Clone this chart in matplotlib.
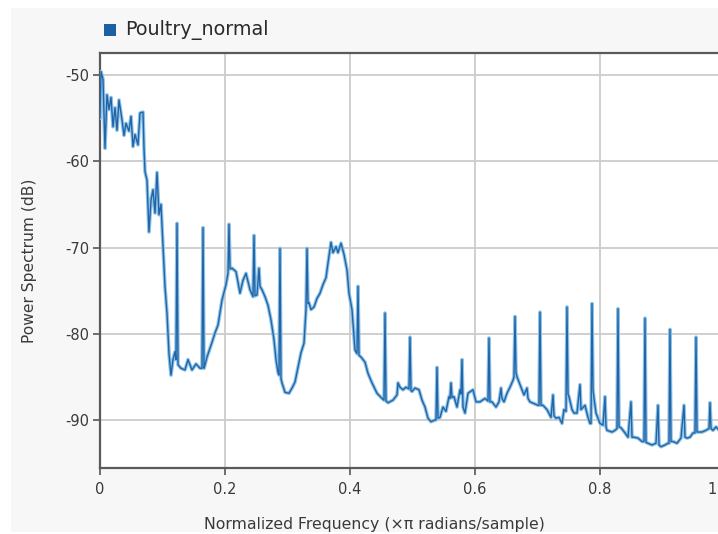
import matplotlib
matplotlib.use("Agg")
import matplotlib.pyplot as plt
import matplotlib.transforms as mtransforms
from matplotlib.patches import Rectangle

plt.rcParams["font.family"] = ["DejaVu Sans"]

# Normalized frequency (x pi rad/sample) and power spectrum (dB)
freq = [
    0.0000, 0.0016, 0.0048, 0.0080, 0.0112, 0.0144, 0.0176, 0.0208, 0.0240, 0.0272,
    0.0304, 0.0352, 0.0384, 0.0416, 0.0464, 0.0496, 0.0528, 0.0560, 0.0608, 0.0640,
    0.0688, 0.0704, 0.0720, 0.0752, 0.0784, 0.0816, 0.0848, 0.0880, 0.0912, 0.0944,
    0.0976, 0.1008, 0.1040, 0.1072, 0.1104, 0.1136, 0.1168, 0.1200, 0.1216, 0.1232,
    0.1248, 0.1296, 0.1360, 0.1408, 0.1472, 0.1536, 0.1600, 0.1632, 0.1648, 0.1664,
    0.1680, 0.1712, 0.1792, 0.1840, 0.1888, 0.1952, 0.2016, 0.2048, 0.2064, 0.2080,
    0.2112, 0.2176, 0.2240, 0.2288, 0.2336, 0.2400, 0.2448, 0.2464, 0.2480, 0.2512,
    0.2544, 0.2560, 0.2592, 0.2640, 0.2688, 0.2736, 0.2784, 0.2816, 0.2848, 0.2864,
    0.2880, 0.2896, 0.2912, 0.2960, 0.3024, 0.3072, 0.3120, 0.3168, 0.3216, 0.3264,
    0.3296, 0.3312, 0.3328, 0.3344, 0.3376, 0.3424, 0.3472, 0.3520, 0.3568, 0.3616,
    0.3648, 0.3696, 0.3728, 0.3776, 0.3808, 0.3856, 0.3904, 0.3952, 0.3984, 0.4032,
    0.4080, 0.4112, 0.4128, 0.4144, 0.4176, 0.4240, 0.4288, 0.4352, 0.4432, 0.4512,
    0.4544, 0.4560, 0.4576, 0.4608, 0.4688, 0.4752, 0.4768, 0.4800, 0.4848, 0.4896,
    0.4944, 0.4960, 0.4976, 0.4992, 0.5040, 0.5104, 0.5152, 0.5200, 0.5248, 0.5296,
    0.5360, 0.5376, 0.5392, 0.5408, 0.5440, 0.5488, 0.5536, 0.5584, 0.5600, 0.5616,
    0.5632, 0.5664, 0.5712, 0.5760, 0.5776, 0.5792, 0.5808, 0.5840, 0.5888, 0.5968,
    0.6016, 0.6080, 0.6160, 0.6208, 0.6224, 0.6240, 0.6272, 0.6336, 0.6384, 0.6416,
    0.6432, 0.6464, 0.6512, 0.6560, 0.6608, 0.6624, 0.6640, 0.6656, 0.6672, 0.6720,
    0.6784, 0.6832, 0.6848, 0.6880, 0.6944, 0.7008, 0.7024, 0.7040, 0.7056, 0.7088,
    0.7152, 0.7216, 0.7248, 0.7264, 0.7296, 0.7344, 0.7392, 0.7424, 0.7456, 0.7472,
    0.7488, 0.7504, 0.7552, 0.7584, 0.7632, 0.7680, 0.7696, 0.7760, 0.7808, 0.7840,
    0.7856, 0.7872, 0.7888, 0.7904, 0.7936, 0.8000, 0.8048, 0.8080, 0.8096, 0.8112,
    0.8192, 0.8240, 0.8272, 0.8288, 0.8304, 0.8336, 0.8400, 0.8448, 0.8496, 0.8512,
    0.8544, 0.8608, 0.8672, 0.8704, 0.8720, 0.8736, 0.8768, 0.8832, 0.8896, 0.8928,
    0.8944, 0.8976, 0.9040, 0.9088, 0.9104, 0.9120, 0.9136, 0.9168, 0.9232, 0.9296,
    0.9344, 0.9360, 0.9392, 0.9440, 0.9488, 0.9520, 0.9536, 0.9552, 0.9584, 0.9632,
    0.9696, 0.9744, 0.9760, 0.9776, 0.9808, 0.9856, 0.9920, 1.0000,
]
power_db = [
    -55.0, -49.6, -50.5, -58.5, -52.3, -54.0, -52.6, -56.0, -53.8, -56.4,
    -52.9, -55.2, -57.0, -55.6, -56.5, -54.8, -58.3, -56.9, -58.1, -54.4,
    -54.3, -58.5, -61.2, -62.2, -68.2, -64.5, -63.3, -66.0, -61.3, -66.2,
    -65.0, -69.9, -74.6, -77.6, -82.3, -84.8, -83.0, -82.1, -83.0, -67.2,
    -83.6, -84.0, -84.2, -83.0, -84.2, -83.5, -84.0, -84.0, -67.7, -84.0,
    -83.6, -82.7, -81.0, -79.9, -79.0, -76.1, -74.3, -73.0, -67.3, -72.5,
    -72.4, -72.8, -75.3, -73.8, -73.0, -74.9, -75.7, -68.6, -75.6, -75.5,
    -72.4, -74.5, -74.9, -75.7, -76.7, -78.4, -80.7, -83.0, -84.5, -84.8,
    -70.1, -85.2, -85.7, -86.8, -86.9, -86.3, -85.6, -83.9, -82.2, -81.1,
    -77.2, -70.1, -76.5, -76.4, -77.2, -76.9, -75.9, -75.3, -74.3, -73.5,
    -71.8, -69.4, -70.6, -69.9, -70.6, -69.5, -70.8, -72.6, -75.3, -77.2,
    -81.9, -82.3, -74.5, -82.5, -82.7, -83.3, -84.6, -85.7, -86.9, -87.5,
    -87.7, -77.6, -87.8, -88.0, -87.7, -87.1, -85.7, -86.2, -86.5, -86.2,
    -86.4, -80.4, -86.6, -86.7, -86.3, -86.5, -87.7, -88.5, -89.8, -90.2,
    -90.0, -90.0, -83.9, -89.8, -89.7, -88.5, -89.0, -87.3, -87.5, -85.7,
    -87.4, -87.3, -88.5, -86.5, -87.0, -83.0, -88.5, -89.2, -86.9, -86.5,
    -87.9, -87.9, -87.5, -87.8, -80.5, -87.9, -87.9, -88.5, -87.9, -86.3,
    -87.5, -87.9, -86.9, -86.2, -85.4, -85.0, -78.0, -84.5, -85.0, -85.9,
    -87.1, -86.3, -87.5, -87.9, -88.1, -88.3, -88.3, -77.5, -88.3, -88.3,
    -88.8, -89.7, -87.1, -89.5, -89.8, -89.7, -90.4, -88.8, -89.0, -76.9,
    -87.0, -87.3, -88.8, -89.2, -89.2, -85.9, -88.8, -88.3, -89.7, -90.4,
    -90.4, -76.5, -86.5, -87.5, -89.2, -90.4, -90.6, -87.3, -90.8, -91.2,
    -91.4, -91.2, -91.0, -77.1, -90.8, -90.9, -91.5, -92.0, -87.9, -92.0,
    -92.0, -92.1, -92.5, -92.5, -78.2, -92.6, -92.7, -92.9, -92.7, -88.3,
    -92.9, -93.1, -92.9, -92.7, -92.7, -79.5, -92.5, -92.5, -92.7, -92.1,
    -88.3, -92.0, -92.1, -92.0, -91.5, -91.5, -80.4, -91.4, -91.4, -91.4,
    -91.2, -91.0, -88.0, -91.0, -91.2, -90.8, -91.3, -91.0,
]

series_name = "Poultry_normal"
x_ticks = [0, 0.2, 0.4, 0.6, 0.8, 1.0]
x_tick_labels = ["0", "0.2", "0.4", "0.6", "0.8", "1"]
y_ticks = [-90, -80, -70, -60, -50]
y_tick_labels = ["-90", "-80", "-70", "-60", "-50"]

W, H = 718, 534
fig = plt.figure(figsize=(W / 100, H / 100), dpi=100, facecolor="white")

# light grey panel behind the chart
fig.patches.append(Rectangle((11 / W, 2 / H), 1, 1 - 10 / H, transform=fig.transFigure,
                             facecolor="#f7f7f7", edgecolor="none", zorder=-10))

ax = fig.add_axes([100 / W, 1 - 468 / H, 625 / W, (468 - 52.7) / H])
ax.set_facecolor("white")

ax.plot(freq, power_db, color="#8ec3e8", lw=2.6, solid_joinstyle="round", zorder=3)
ax.plot(freq, power_db, color="#2264a6", lw=1.0, solid_joinstyle="round", zorder=4)

ax.set_xlim(0, 1)
ax.set_ylim(-95.57, -47.41)
ax.set_xticks(x_ticks)
ax.set_xticklabels(x_tick_labels)
ax.set_yticks(y_ticks)
ax.set_yticklabels(y_tick_labels)
ax.grid(True, color="#cccccc", lw=1.3)
ax.set_axisbelow(True)

for side in ("left", "bottom", "top"):
    ax.spines[side].set_color("#5a5a5a")
    ax.spines[side].set_linewidth(1.6)
ax.spines["right"].set_visible(False)

ax.tick_params(axis="both", colors="#555555", width=1.2, length=5, direction="out",
               labelsize=10.5, labelcolor="#3a3a3a")
ax.tick_params(axis="x", pad=5)
ax.tick_params(axis="y", pad=3)

# the "1" label sits at the right edge of the canvas; pull it in a little
last = ax.xaxis.get_major_ticks()[-1]
last.label1.set_transform(last.label1.get_transform()
                          + mtransforms.ScaledTranslation(-0.13, 0, fig.dpi_scale_trans))

fig.text(374 / W, 1 - 524 / H, "Normalized Frequency (×π radians/sample)",
         ha="center", va="center", fontsize=11.3, color="#3a3a3a")
fig.text(30 / W, 1 - 261 / H, "Power Spectrum (dB)", rotation=90,
         ha="center", va="center", fontsize=11.2, color="#3a3a3a")

# legend entry above the plot
fig.patches.append(Rectangle((104 / W, 1 - 36 / H), 12 / W, 12 / H, transform=fig.transFigure,
                             facecolor="#1d5fa4", edgecolor="none", zorder=5))
fig.text(125 / W, 1 - 30 / H, series_name, ha="left", va="center",
         fontsize=13.8, color="#2a2a2a")

fig.savefig("out.png", dpi=100, facecolor=fig.get_facecolor())
